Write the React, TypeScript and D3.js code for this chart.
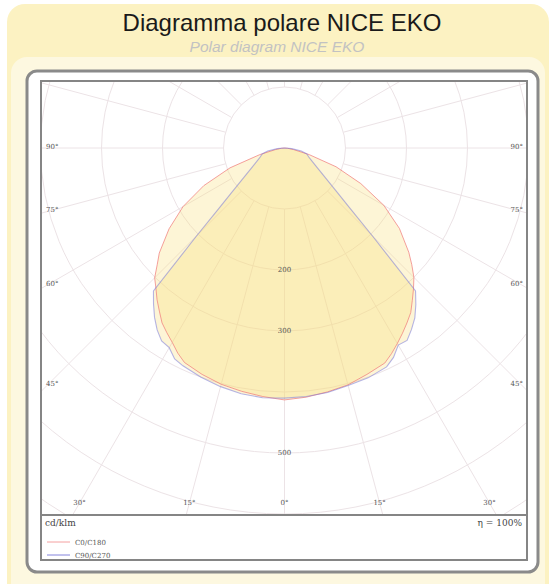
import * as d3 from "d3";

// ── Data (cd/klm) ────────────────────────────────────────────────────────────

const ANGLES = [0, 5, 10, 15, 20, 25, 27.5, 30, 32.5, 35, 37.5, 40, 42.5, 45, 47.5, 50, 55, 60, 65, 70, 75, 80, 85, 90];

const C0   = [413, 410, 406, 402, 395, 389, 380, 370, 360, 350, 340, 326, 313, 300, 283, 266, 230, 188, 138, 90, 42, 15, 5, 0];
const C180 = [413, 409, 405, 401, 395, 388, 379, 368, 359, 350, 337, 325, 312, 301, 283, 268, 231, 192, 146, 95, 42, 15, 5, 0];
const C90  = [410, 409, 407, 403, 401, 396, 387, 373, 374, 363, 351, 335, 318, 204, 144, 112, 78, 60, 49, 42, 38, 28, 12, 0];
const C270 = [410, 411, 409, 405, 400, 394, 390, 378, 375, 364, 350, 334, 318, 204, 144, 112, 78, 60, 49, 42, 38, 28, 12, 0];

const RINGS       = [100, 200, 300, 400, 500, 600, 700, 800];
const RING_LABELS = [200, 300, 500];
const SPOKES      = [0, 15, 30, 45, 60, 75, 90, 105, 120, 135, 150, 165, 180, 195, 210, 225, 240, 255, 270, 285, 300, 315, 330, 345];
const SIDE_TICKS  = [90, 75, 60, 45];
const FOOT_TICKS  = [-30, -15, 0, 15, 30];

// ── Tokens ───────────────────────────────────────────────────────────────────

const GRID  = "#ece3e6";
const LABEL = "#555";
const SANS  = "'Liberation Sans', Arial, sans-serif";
const SERIF = "'DejaVu Serif', 'Liberation Serif', serif";

const CX = 284.5, CY = 148;
const PLOT = { x0: 42, y0: 82, x1: 526, y1: 514 };

const r = d3.scaleLinear().domain([0, 100]).range([0, 61]);
const rad = (deg: number) => (deg * Math.PI) / 180;

// angle measured from nadir (down); right side plane then left side plane
function planePath(right: number[], left: number[]) {
  const pts: [number, number][] = [];
  for (let i = ANGLES.length - 1; i >= 0; i--) pts.push([Math.PI - rad(ANGLES[i]), right[i]]);
  for (let i = 0; i < ANGLES.length; i++) pts.push([Math.PI + rad(ANGLES[i]), left[i]]);
  const line = d3.lineRadial<[number, number]>()
    .angle(d => d[0])
    .radius(d => r(d[1]));
  return line(pts) + "Z";
}

export default function App() {
  const red = planePath(C0, C180);
  const blue = planePath(C90, C270);

  return (
    <>
      <style>{`body{margin:0}`}</style>
      <svg width={552} height={584} style={{ display: "block" }}>
        <defs>
          <clipPath id="plot">
            <rect x={PLOT.x0} y={PLOT.y0} width={PLOT.x1 - PLOT.x0} height={PLOT.y1 - PLOT.y0} />
          </clipPath>
        </defs>

        {/* Background panels */}
        <rect x={0} y={0} width={552} height={584} fill="#ffffff" />
        <rect x={7} y={4} width={542} height={600} rx={18} fill="#fcf2c2" />
        <rect x={11} y={57} width={534} height={544} rx={16} fill="#fdf8e0" />

        {/* Title */}
        <text x={282} y={31} textAnchor="middle" fontFamily={SANS} fontSize={24} fill="#1a1a1a">
          Diagramma polare NICE EKO
        </text>
        <text x={277} y={52} textAnchor="middle" fontFamily={SANS} fontSize={15.5} fontStyle="italic" fill="#c2c2c2">
          Polar diagram NICE EKO
        </text>

        {/* Frame */}
        <rect x={27} y={71} width={511} height={501} rx={10} fill="#ffffff" stroke="#8a8a8a" strokeWidth={3} />
        <rect x={41} y={81} width={486} height={479} fill="#ffffff" stroke="#858585" strokeWidth={2} />

        {/* Polar grid */}
        <g clipPath="url(#plot)">
          {RINGS.map(v => (
            <circle key={v} cx={CX} cy={CY} r={r(v)} fill="none" stroke={GRID} strokeWidth={1} />
          ))}
          {SPOKES.map(a => (
            <line
              key={a}
              x1={CX + r(100) * Math.sin(rad(a))}
              y1={CY + r(100) * Math.cos(rad(a))}
              x2={CX + r(900) * Math.sin(rad(a))}
              y2={CY + r(900) * Math.cos(rad(a))}
              stroke={GRID}
              strokeWidth={1}
            />
          ))}

          {/* Curves */}
          <g transform={`translate(${CX},${CY})`}>
            <path d={red} fill="#f9df78" fillOpacity={0.3} />
            <path d={blue} fill="#f9df78" fillOpacity={0.3} />
            <path d={red} fill="none" stroke="#f07878" strokeOpacity={0.7} strokeWidth={1} />
            <path d={blue} fill="none" stroke="#7a7ad8" strokeOpacity={0.55} strokeWidth={1.1} />
          </g>

          {RING_LABELS.map(v => (
            <text key={v} x={CX} y={CY + r(v)} textAnchor="middle" dominantBaseline="middle"
              fontFamily={SERIF} fontSize={7} fill={LABEL}>{v}</text>
          ))}
        </g>

        {/* Angle labels */}
        {SIDE_TICKS.map(a => {
          const y = CY + (CX - 47) / Math.tan(rad(a));
          return (
            <g key={a} fontFamily={SERIF} fontSize={7} fill={LABEL}>
              <text x={46} y={y - 1} dominantBaseline="middle">{a}°</text>
              <text x={523} y={y - 1} textAnchor="end" dominantBaseline="middle">{a}°</text>
            </g>
          );
        })}
        {FOOT_TICKS.map(a => (
          <text key={a} x={CX + (503 - CY) * Math.tan(rad(a))} y={503} textAnchor="middle"
            dominantBaseline="middle" fontFamily={SERIF} fontSize={7} fill={LABEL}>
            {Math.abs(a)}°
          </text>
        ))}

        {/* Legend */}
        <line x1={42} x2={526} y1={515} y2={515} stroke="#858585" strokeWidth={2} />
        <text x={45} y={526} fontFamily={SERIF} fontSize={9} fill="#444">cd/klm</text>
        <text x={522} y={526} textAnchor="end" fontFamily={SERIF} fontSize={9} fill="#444">η = 100%</text>
        <line x1={47} x2={70} y1={542} y2={542} stroke="#f4a0a0" strokeWidth={1} />
        <text x={75} y={544.5} fontFamily={SERIF} fontSize={7} fill="#555">C0/C180</text>
        <line x1={47} x2={70} y1={555} y2={555} stroke="#8484dc" strokeWidth={1} />
        <text x={75} y={557.5} fontFamily={SERIF} fontSize={7} fill="#555">C90/C270</text>
      </svg>
    </>
  );
}
